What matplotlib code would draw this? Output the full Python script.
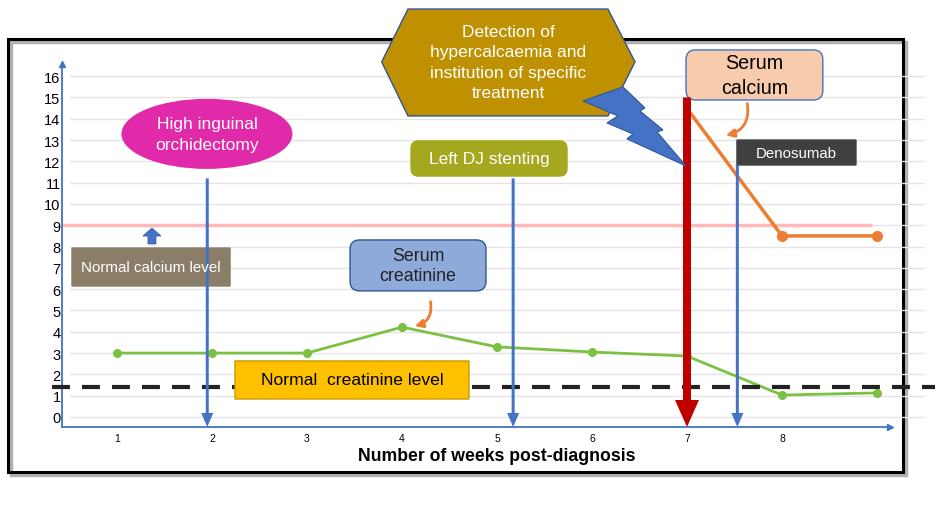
import matplotlib
matplotlib.use("Agg")
import matplotlib.pyplot as plt
from matplotlib.patches import FancyBboxPatch, Ellipse, Polygon, FancyArrowPatch, Rectangle

plt.rcParams['font.family'] = ['Liberation Sans', 'DejaVu Sans']

# data
weeks = [1, 2, 3, 4, 5, 6, 7, 8, 9]
creatinine = [3.0, 3.0, 3.0, 4.22, 3.29, 3.05, 2.86, 1.03, 1.13]
calcium_weeks = [7.03, 8, 9]
calcium = [14.3, 8.5, 8.5]
normal_calcium = 9
normal_creatinine = 1.4
x_ticks = [1, 2, 3, 4, 5, 6, 7, 8]
y_ticks = list(range(0, 17))

# events (week, top of arrow)
orchidectomy = (1.95, 11.2)
stenting = (5.17, 11.2)
detection = (7.0, 15.0)
denosumab = (7.53, 11.85)

BLUE = '#4472c4'
XMIN, XMAX = 0.421, 9.137
YMIN, YMAX = -0.47, 16.57
XU, YU = 95.0, 21.3  # pixels per unit

fig = plt.figure(figsize=(9.4, 5.06), dpi=100)
ax = fig.add_axes([62 / 940, 1 - 428 / 506, 828 / 940, 363 / 506])
ax.set_xlim(XMIN, XMAX)
ax.set_ylim(YMIN, YMAX)
ax.patch.set_visible(False)

# outer frame with a soft shadow
fig.patches.append(Rectangle((11 / 940, 1 - 476 / 506), 895 / 940, 433 / 506, transform=fig.transFigure,
                             fill=False, lw=2.5, ec='#b0b0b0', zorder=-2))
fig.patches.append(Rectangle((8 / 940, 1 - 473 / 506), 895 / 940, 433 / 506, transform=fig.transFigure,
                             fill=False, lw=2.2, ec='black', zorder=-1))

# axes look
for s in ['top', 'right']:
    ax.spines[s].set_visible(False)
for s in ['left', 'bottom']:
    ax.spines[s].set_color(BLUE)
    ax.spines[s].set_linewidth(1.3)
ax.plot([0], [1], marker='^', color=BLUE, ms=5, transform=ax.transAxes, clip_on=False)
ax.plot([1], [0], marker='>', color=BLUE, ms=5, transform=ax.transAxes, clip_on=False)
ax.set_yticks(y_ticks)
ax.set_xticks(x_ticks)
ax.tick_params(axis='y', length=0, labelsize=10.5, pad=1)
ax.tick_params(axis='x', length=0, labelsize=7.5, pad=4)
ax.set_xlabel('Number of weeks post-diagnosis', fontsize=12.7, fontweight='bold')
ax.xaxis.set_label_coords((497 - 62) / 828, -0.055)
ax.hlines(y_ticks, 0.505, 9.5, colors='#e4e4e4', lw=1, clip_on=False, zorder=0)

# reference levels
ax.hlines(normal_calcium, XMIN, 8.95, colors='#ffb7b7', lw=2.5, zorder=2)
ax.hlines(normal_creatinine, 0.316, 9.61, colors='#222222', lw=3, linestyles=(0, (4.3, 2.9)),
          clip_on=False, zorder=6)

# series
ax.plot(weeks, creatinine, color='#7cc242', lw=2, marker='o', ms=5.5, zorder=3)
ax.plot(calcium_weeks, calcium, color='#ed7d31', lw=2.5, marker='o', ms=7, markevery=[1, 2], zorder=3)

# event arrows
for wk, top in [orchidectomy, stenting, denosumab]:
    ax.arrow(wk, top, 0, YMIN - top, width=3 / XU, head_width=12 / XU, head_length=14 / YU,
             length_includes_head=True, fc=BLUE, ec='none', zorder=7.5, clip_on=False)
ax.arrow(detection[0], detection[1], 0, YMIN - detection[1], width=8 / XU, head_width=24 / XU,
         head_length=27 / YU, length_includes_head=True, fc='#c00000', ec='none', zorder=7.5, clip_on=False)


def box(x0, y0, x1, y1, fc, ec, text, tc, fs, r=0.0, ls=1.25):
    p = FancyBboxPatch((x0, y0), x1 - x0, y1 - y0, boxstyle=f'round,pad=0,rounding_size={r}',
                       mutation_aspect=XU / YU, fc=fc, ec=ec, lw=1, zorder=7, clip_on=False)
    ax.add_patch(p)
    ax.text((x0 + x1) / 2, (y0 + y1) / 2, text, ha='center', va='center', color=tc, fontsize=fs,
            zorder=8, linespacing=ls)


# annotations
ax.add_patch(Ellipse((1.947, 13.29), 1.8, 3.29, fc='#e02aaa', ec='none', zorder=7))
ax.text(1.947, 13.29, 'High inguinal\norchidectomy', ha='center', va='center', color='white',
        fontsize=12.5, zorder=8, linespacing=1.45)

box(4.095, 11.31, 5.737, 12.96, '#a5a81f', '#a5a81f', 'Left DJ stenting', 'white', 12.5, 0.08)
box(3.453, 5.92, 4.884, 8.31, '#8eaadb', '#2f5597', 'Serum\ncreatinine', '#222222', 12.8, 0.1)
box(0.526, 6.15, 2.19, 7.93, '#8b7e68', '#8b7e68', 'Normal calcium level', 'white', 10.9)
box(2.242, 0.845, 4.705, 2.63, '#ffc000', '#c89a00', 'Normal  creatinine level', 'black', 12.6)
box(6.99, 14.88, 8.43, 17.23, '#f8cbad', BLUE, 'Serum\ncalcium', 'black', 14.2, 0.1, 1.35)
box(7.526, 11.83, 8.779, 13.0, '#404040', '#404040', 'Denosumab', 'white', 10.8)

ax.arrow(1.368, 8.12, 0, 0.75, width=8 / XU, head_width=18 / XU, head_length=8 / YU,
         length_includes_head=True, fc=BLUE, ec='#2f5597', lw=0.5, zorder=7)

hexagon = [(3.786, 16.67), (4.063, 19.15), (6.168, 19.15), (6.453, 16.67), (6.168, 14.13), (4.063, 14.13)]
ax.add_patch(Polygon(hexagon, closed=True, fc='#bf9000', ec='#2f5597', lw=1, zorder=7, clip_on=False))
ax.text(5.116, 16.67, 'Detection of\nhypercalcaemia and\ninstitution of specific\ntreatment',
        ha='center', va='center', color='white', fontsize=12.5, zorder=8, linespacing=1.45)

bolt_px = [(583, 102), (623, 88), (645, 109), (640, 112), (663, 131), (657, 133), (686, 167),
           (627, 140), (633, 135), (607, 124), (618, 117)]
bolt = [(1 + (px - 117) / XU, (418 - py) / YU) for px, py in bolt_px]
ax.add_patch(Polygon(bolt, closed=True, fc=BLUE, ec='#2f5597', lw=0.8, zorder=9, clip_on=False))

# small curved pointers
ax.add_patch(FancyArrowPatch((7.63, 14.84), (7.38, 13.19), connectionstyle='arc3,rad=-0.5',
                             arrowstyle='-|>', mutation_scale=12, lw=2, color='#ed7d31', zorder=8))
ax.add_patch(FancyArrowPatch((4.295, 5.54), (4.105, 4.23), connectionstyle='arc3,rad=-0.5',
                             arrowstyle='-|>', mutation_scale=12, lw=2, color='#ed7d31', zorder=8))

fig.savefig('out.png', dpi=100)
